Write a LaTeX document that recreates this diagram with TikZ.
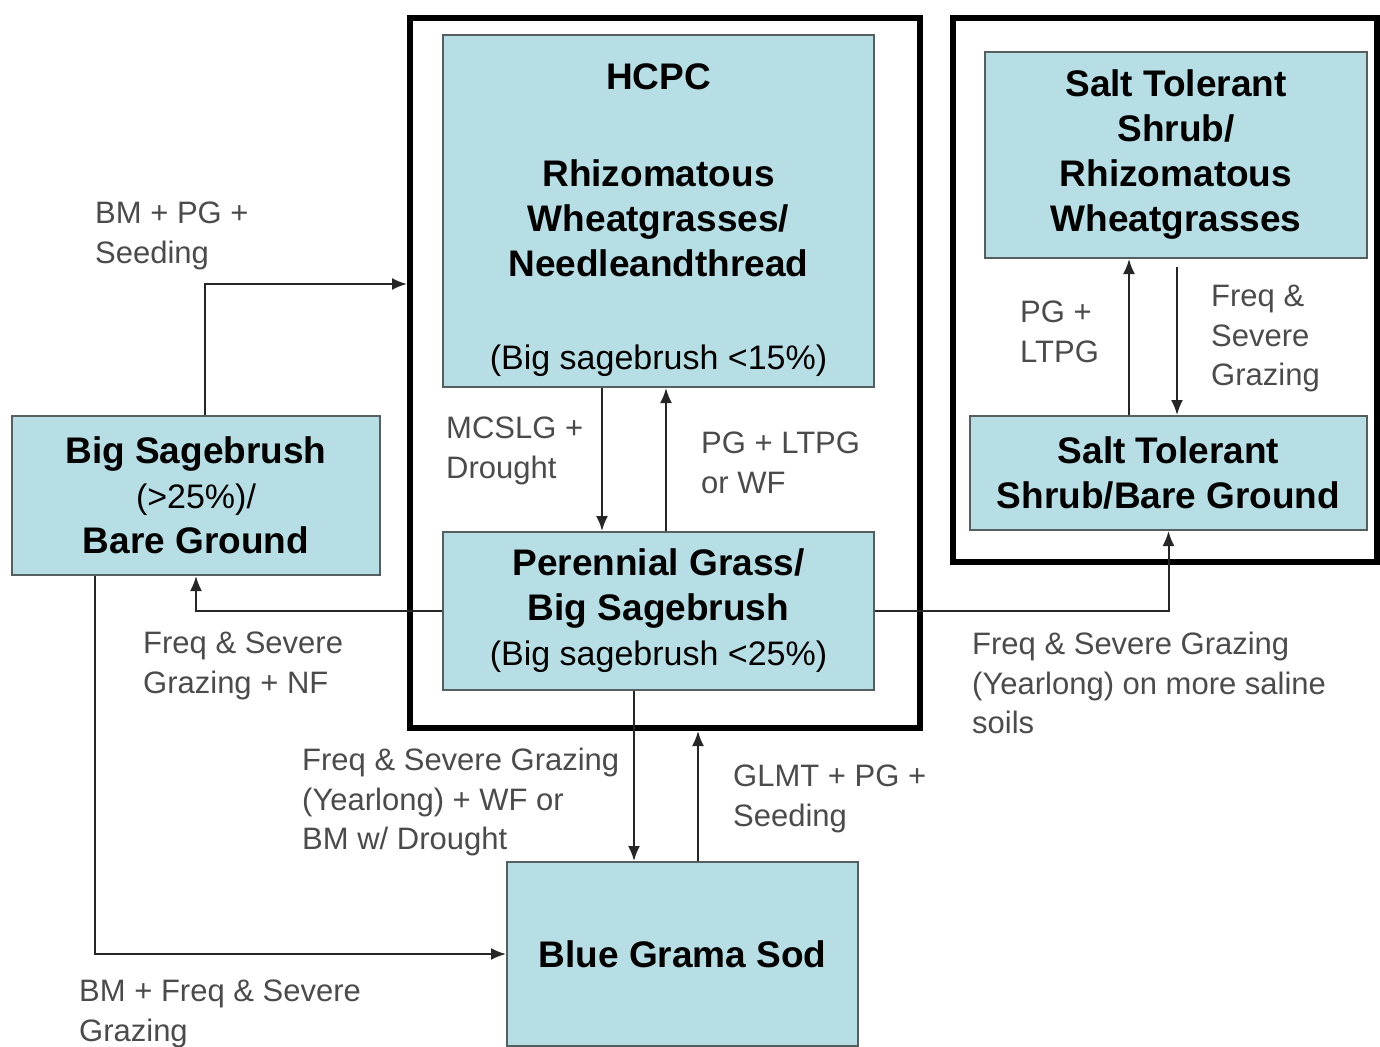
\documentclass[tikz,border=0pt]{standalone}
\usepackage{fontspec}
\setmainfont{Liberation Sans}
\usetikzlibrary{arrows.meta}
\definecolor{boxfill}{RGB}{183,222,228}
\definecolor{boxline}{RGB}{85,95,95}
\definecolor{lbl}{RGB}{75,75,75}

\begin{document}
\begin{tikzpicture}[x=1pt, y=-1pt,
        state/.style={draw=boxline, line width=2pt, fill=boxfill, inner sep=0pt, align=center,
                      font=\fontsize{37}{45}\selectfont\bfseries},
        frame/.style={draw=black, line width=6pt, inner sep=0pt},
        trans/.style={anchor=north west, inner sep=0pt, align=left, text=lbl,
                      font=\fontsize{31}{39.5}\selectfont},
        arr/.style={draw=black!85, line width=2pt, -{Latex[length=15pt, width=12pt]}}]
    \useasboundingbox (0,0) rectangle (1380,1046);

    \node[frame, minimum width=510pt, minimum height=710pt] (f1) at (665, 373) {};
    \node[frame, minimum width=424pt, minimum height=544pt] (f2) at (1165, 290) {};

    \node[state, minimum width=431pt, minimum height=352pt] (hc) at (658.5, 211)
        {\rule{0pt}{45pt}HCPC\\[52pt]Rhizomatous\\Wheatgrasses/\\Needleandthread\\[48pt]
         {\mdseries\fontsize{34}{45}\selectfont (Big sagebrush <15\%)}};
    \node[state, minimum width=431pt, minimum height=158pt] (pg) at (658.5, 611)
        {Perennial Grass/\\Big Sagebrush\\{\mdseries\fontsize{34}{45}\selectfont (Big sagebrush <25\%)}};
    \node[state, minimum width=368pt, minimum height=159pt] (bs) at (196, 495.5)
        {Big Sagebrush\\{\mdseries\fontsize{34}{45}\selectfont (>25\%)/}\\Bare Ground};
    \node[state, minimum width=351pt, minimum height=184pt] (bg) at (682.5, 954) {Blue Grama Sod};
    \node[state, minimum width=382pt, minimum height=206pt] (st) at (1176, 155)
        {Salt Tolerant\\Shrub/\\Rhizomatous\\Wheatgrasses};
    \node[state, minimum width=397pt, minimum height=114pt] (sb) at (1168.5, 473)
        {Salt Tolerant\\Shrub/Bare Ground};

    \draw[arr] ([xshift=-56.5pt]hc.south) -- ([xshift=-56.5pt]pg.north);
    \draw[arr] ([xshift=7.5pt]pg.north) -- ([xshift=7.5pt]hc.south);
    \draw[arr] ([xshift=9pt]bs.north) |- ([yshift=89pt]f1.west);
    \draw[arr] (pg.west) -| (bs.south);
    \draw[arr] (pg.east) -| (sb.south);
    \draw[arr] ([xshift=-24.5pt]pg.south) -- ([xshift=-24.5pt]pg.south |- bg.north);
    \draw[arr] ([xshift=15.5pt]bg.north) -- ([xshift=15.5pt]bg.north |- f1.south);
    \draw[arr] ([xshift=-101pt]bs.south) |- (bg.west);
    \draw[arr, shorten <=8pt] ([xshift=1pt]st.south) -- ([xshift=1pt]st.south |- sb.north);
    \draw[arr] ([xshift=-39.5pt]sb.north) -- ([xshift=-39.5pt]sb.north |- st.south);

    \node[trans] (t1) at (95, 202)   {BM + PG +\\Seeding};
    \node[trans] (t2) at (446, 417)  {MCSLG +\\Drought};
    \node[trans] (t3) at (701, 432)  {PG + LTPG\\or WF};
    \node[trans] (t4) at (143, 632)  {Freq \& Severe\\Grazing + NF};
    \node[trans] (t5) at (302, 748)  {Freq \& Severe Grazing\\(Yearlong) + WF or\\BM w/ Drought};
    \node[trans] (t6) at (733, 765)  {GLMT + PG +\\Seeding};
    \node[trans] (t7) at (79, 980)   {BM + Freq \& Severe\\Grazing};
    \node[trans] (t8) at (972, 632)  {Freq \& Severe Grazing\\(Yearlong) on more saline\\soils};
    \node[trans] (t9) at (1020, 301) {PG +\\LTPG};
    \node[trans] (t10) at (1211, 285) {Freq \&\\Severe\\Grazing};
\end{tikzpicture}
\end{document}
